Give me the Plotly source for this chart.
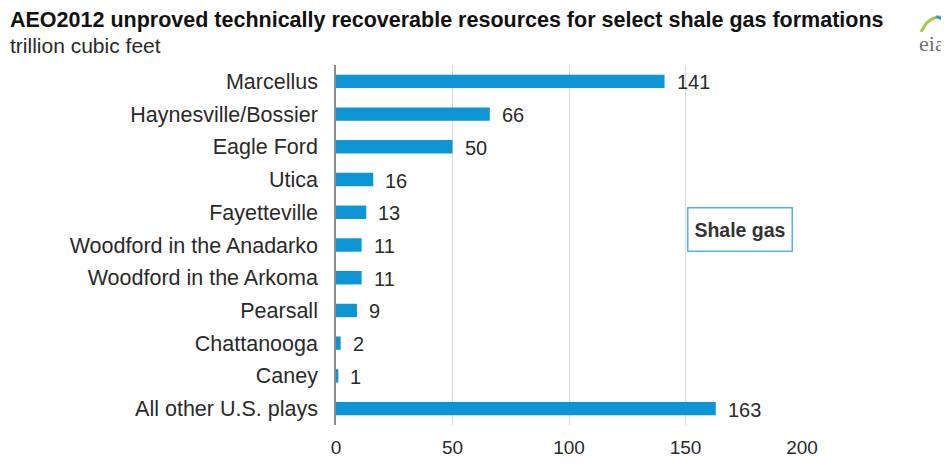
import plotly.graph_objects as go

categories = ["Marcellus", "Haynesville/Bossier", "Eagle Ford", "Utica", "Fayetteville",
              "Woodford in the Anadarko", "Woodford in the Arkoma", "Pearsall",
              "Chattanooga", "Caney", "All other U.S. plays"]
values = [141, 66, 50, 16, 13, 11, 11, 9, 2, 1, 163]
x_ticks = [0, 50, 100, 150, 200]

BAR = "#0d95d5"
TXT = "#2a2a2a"
FONT = "Liberation Sans, Arial, sans-serif"

fig = go.Figure(go.Bar(
    x=values, y=categories, orientation="h",
    marker=dict(color=BAR, line=dict(width=0)),
    width=0.41, hoverinfo="x+y",
))

annotations = [
    dict(x=v, y=c, xref="x", yref="y", text=str(v), showarrow=False,
         xanchor="left", yanchor="middle", xshift=10, yshift=-1,
         font=dict(size=20, color=TXT, family=FONT))
    for c, v in zip(categories, values)
]

annotations += [
    dict(text="<b>AEO2012 unproved technically recoverable resources for select shale gas formations</b>",
         xref="paper", yref="paper", x=-0.7039, y=1.0, xanchor="left", yanchor="middle",
         yshift=45, showarrow=False, font=dict(size=21.5, color="#111111", family=FONT)),
    dict(text="trillion cubic feet", xref="paper", yref="paper", x=-0.7039, y=1.0,
         xanchor="left", yanchor="middle", yshift=20, showarrow=False,
         font=dict(size=21, color=TXT, family=FONT)),
    dict(text="<b>Shale gas</b>", xref="paper", yref="paper", x=0.868, y=0.5444,
         xanchor="center", yanchor="middle", showarrow=False,
         width=97, height=36, borderpad=3,
         font=dict(size=19.5, color="#333333", family=FONT),
         bordercolor="#52b4dc", borderwidth=1.5, bgcolor="white"),
    dict(text="eia", xref="paper", yref="paper", x=1.2468, y=1.0, xanchor="left",
         yanchor="middle", yshift=22, showarrow=False,
         font=dict(size=22, color="#707070", family="Liberation Serif, serif")),
]

fig.update_layout(
    width=941, height=458,
    margin=dict(l=328, r=147, t=57, b=41, autoexpand=False),
    paper_bgcolor="white", plot_bgcolor="white",
    showlegend=False,
    font=dict(family=FONT, color=TXT),
    xaxis=dict(range=[0, 200], tickvals=x_ticks, showgrid=True, gridcolor="#d9d9d9",
               gridwidth=1, zeroline=False, showline=False, automargin=False,
               tickfont=dict(size=19, color=TXT), ticks="", ticklabelstandoff=9),
    yaxis=dict(autorange="reversed", showline=True, linecolor="#8c8c8c", linewidth=1.5,
               automargin=False,
               tickfont=dict(size=21.5, color=TXT), ticks="", ticklabelstandoff=12,
               showgrid=False),
    annotations=annotations,
)

# swoosh of the eia logo
fig.add_shape(type="path", xref="paper", yref="paper",
              path="M 1.256 1.092 Q 1.27 1.135 1.30 1.133", line=dict(color="#a6c94a", width=3))
fig.add_shape(type="path", xref="paper", yref="paper",
              path="M 1.287 1.135 Q 1.305 1.13 1.311 1.10", line=dict(color="#2d9ad6", width=2.5))

fig.write_html("out.html")
